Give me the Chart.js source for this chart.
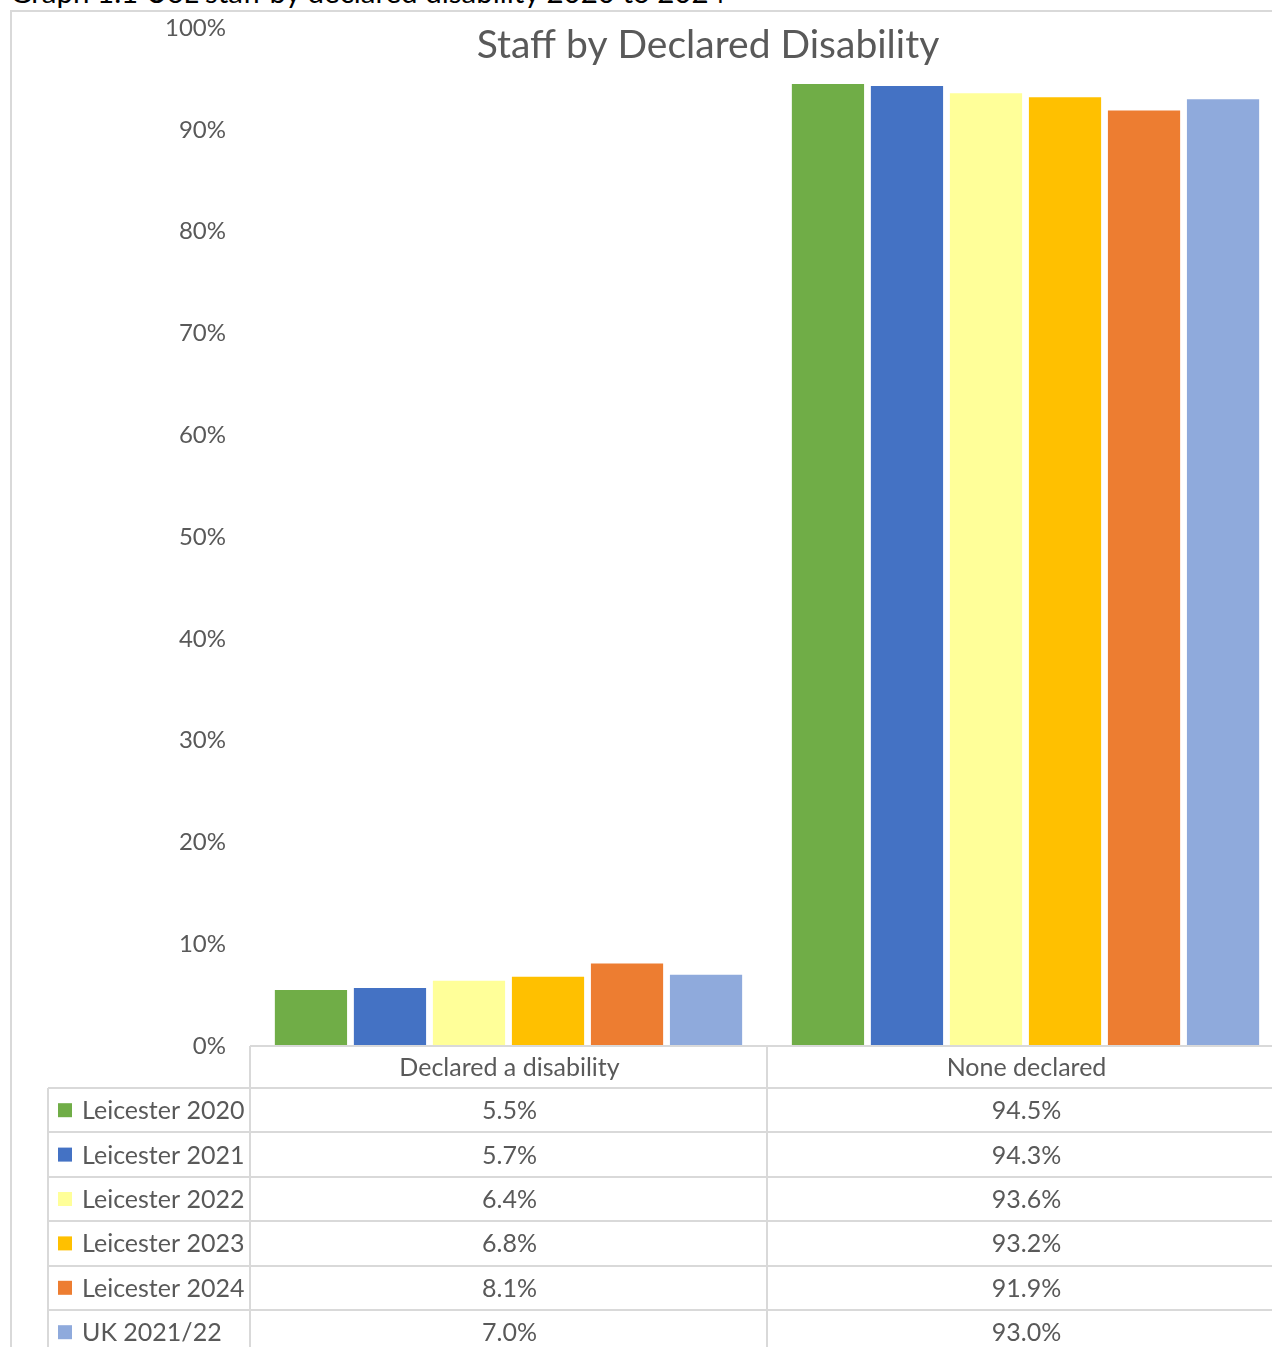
<!DOCTYPE html>
<html>
<head>
<meta charset="utf-8">
<script src="https://cdn.jsdelivr.net/npm/chart.js@4.4.1/dist/chart.umd.min.js"></script>
<style>
    html, body { margin: 0; padding: 0; background: #fff; overflow: hidden; }
    body { width: 1272px; height: 1347px; position: relative; }
    #caption {
        position: absolute; left: 10px; top: -23px;
        font-family: Lato, sans-serif; font-size: 29.5px; line-height: 29px;
        color: #000; white-space: nowrap;
    }
    #wrap { position: absolute; left: 0; top: 0; width: 1400px; height: 1347px; }
</style>
</head>
<body>
<div id="caption">Graph 1.1 UoL staff by declared disability 2020 to 2024</div>
<div id="wrap"><canvas id="chart"></canvas></div>
<script>
// Data
const categories = ['Declared a disability', 'None declared'];
const seriesNames = ['Leicester 2020', 'Leicester 2021', 'Leicester 2022', 'Leicester 2023', 'Leicester 2024', 'UK 2021/22'];
const leicester2020 = [5.5, 94.5];
const leicester2021 = [5.7, 94.3];
const leicester2022 = [6.4, 93.6];
const leicester2023 = [6.8, 93.2];
const leicester2024 = [8.1, 91.9];
const uk2122 = [7.0, 93.0];
const seriesValues = [leicester2020, leicester2021, leicester2022, leicester2023, leicester2024, uk2122];
const seriesColors = ['#70AD47', '#4472C4', '#FFFF99', '#FFC000', '#ED7D31', '#8FAADC'];

const TEXT = '#595959';
const LINE = '#d9d9d9';
const FONT = 'Lato, sans-serif';

// Frame, title and data table drawn over the chart
const tablePlugin = {
    id: 'dataTable',
    afterDraw(chart) {
        const ctx = chart.ctx;
        const x = chart.scales.x;
        const area = chart.chartArea;
        const half = (x.getPixelForValue(1) - x.getPixelForValue(0)) / 2;
        const colEdges = [area.left];
        categories.forEach((c, i) => colEdges.push(x.getPixelForValue(i) + half));

        const headTop = area.bottom;
        const rowTop = 1088;
        const rowH = 44.4;
        const keyLeft = 48;
        const bottom = chart.height + 20;

        ctx.save();
        // chart frame
        ctx.strokeStyle = LINE;
        ctx.lineWidth = 2;
        ctx.beginPath();
        ctx.moveTo(11, bottom); ctx.lineTo(11, 11); ctx.lineTo(chart.width, 11);
        ctx.stroke();

        // title
        ctx.fillStyle = TEXT;
        ctx.font = '39px ' + FONT;
        ctx.textAlign = 'center';
        ctx.textBaseline = 'middle';
        ctx.fillText('Staff by Declared Disability', 708, 45);

        // table grid
        ctx.beginPath();
        ctx.moveTo(area.left, headTop); ctx.lineTo(chart.width, headTop);
        colEdges.forEach(cx => { ctx.moveTo(cx, headTop); ctx.lineTo(cx, bottom); });
        ctx.moveTo(keyLeft, rowTop); ctx.lineTo(keyLeft, bottom);
        for (let r = 0; r <= seriesNames.length; r++) {
            const y = Math.round(rowTop + r * rowH);
            ctx.moveTo(keyLeft, y); ctx.lineTo(colEdges[colEdges.length - 1], y);
        }
        ctx.stroke();

        // header
        ctx.font = '25px ' + FONT;
        categories.forEach((c, i) => {
            ctx.fillText(c, x.getPixelForValue(i) + 1, (headTop + rowTop) / 2 + 1);
        });

        // rows
        seriesNames.forEach((name, r) => {
            const cy = rowTop + r * rowH + rowH / 2;
            ctx.fillStyle = seriesColors[r];
            ctx.fillRect(58, cy - 7, 14, 14);
            ctx.fillStyle = TEXT;
            ctx.textAlign = 'left';
            ctx.fillText(name, 82, cy + 1);
            ctx.textAlign = 'center';
            seriesValues[r].forEach((v, i) => {
                ctx.fillText(v.toFixed(1) + '%', x.getPixelForValue(i) + 1, cy + 1);
            });
        });
        ctx.restore();
    }
};

const ctx = document.getElementById('chart').getContext('2d');
new Chart(ctx, {
    type: 'bar',
    data: {
        labels: categories,
        datasets: seriesNames.map((name, i) => ({
            label: name,
            data: seriesValues[i],
            backgroundColor: seriesColors[i],
            borderWidth: 0,
            categoryPercentage: 0.917,
            barPercentage: 0.914
        }))
    },
    options: {
        responsive: true,
        maintainAspectRatio: false,
        animation: false,
        layout: { padding: { top: 28, right: 116, left: 0, bottom: 0 } },
        plugins: {
            legend: { display: false },
            title: { display: false },
            tooltip: { enabled: false }
        },
        scales: {
            x: {
                grid: { display: false },
                border: { display: false },
                ticks: { display: false },
                afterFit(scale) { scale.height = 301; }
            },
            y: {
                min: 0,
                max: 100,
                grid: { display: false, drawTicks: false },
                border: { display: false },
                ticks: {
                    stepSize: 10,
                    padding: 24,
                    color: TEXT,
                    font: { family: FONT, size: 24 },
                    callback: v => v + '%'
                },
                afterFit(scale) {
                    scale.width = 250;
                    scale.paddingTop = 0;
                    scale.paddingBottom = 0;
                }
            }
        }
    },
    plugins: [tablePlugin]
});
</script>
</body>
</html>
